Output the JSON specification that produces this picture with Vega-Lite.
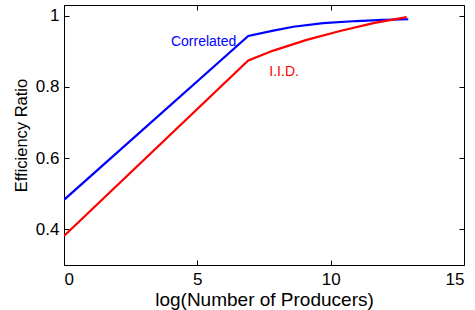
{
  "$schema": "https://vega.github.io/schema/vega-lite/v6.json",
  "width": 400,
  "height": 260,
  "autosize": {"type": "none"},
  "padding": {"left": 64, "top": 5, "right": 11, "bottom": 45},
  "background": "white",
  "config": {
    "view": {"stroke": "black", "strokeWidth": 1},
    "font": "Liberation Sans",
    "axis": {"grid": false, "domain": false, "tickColor": "black", "tickSize": -5, "labelColor": "black", "labelFont": "Liberation Sans", "titleFont": "Liberation Sans", "titleColor": "black", "titleFontWeight": "normal", "labelFontSize": 17, "titleFontSize": 18}
  },
  "datasets": {
    "lines": [
      {"x": 0, "y": 0.483, "series": "Correlated"},
      {"x": 6.91, "y": 0.943, "series": "Correlated"},
      {"x": 7.85, "y": 0.958, "series": "Correlated"},
      {"x": 8.6, "y": 0.969, "series": "Correlated"},
      {"x": 9.72, "y": 0.979, "series": "Correlated"},
      {"x": 10.97, "y": 0.985, "series": "Correlated"},
      {"x": 11.97, "y": 0.988, "series": "Correlated"},
      {"x": 12.91, "y": 0.99, "series": "Correlated"},
      {"x": 0, "y": 0.3815, "series": "I.I.D."},
      {"x": 6.91, "y": 0.874, "series": "I.I.D."},
      {"x": 7.85, "y": 0.902, "series": "I.I.D."},
      {"x": 9.1, "y": 0.932, "series": "I.I.D."},
      {"x": 10.35, "y": 0.957, "series": "I.I.D."},
      {"x": 11.6, "y": 0.979, "series": "I.I.D."},
      {"x": 12.85, "y": 0.996, "series": "I.I.D."}
    ],
    "labels": [
      {"x": 4.01, "y": 0.9135, "series": "Correlated"},
      {"x": 7.7, "y": 0.832, "series": "I.I.D."}
    ]
  },
  "layer": [
    {
      "data": {"name": "lines"},
      "mark": {"type": "line", "strokeWidth": 2.2, "clip": true},
      "encoding": {
        "x": {"field": "x", "type": "quantitative", "scale": {"domain": [0, 15], "nice": false, "zero": false}, "axis": {"orient": "bottom", "values": [0, 5, 10, 15], "title": "log(Number of Producers)", "titleFontSize": 19, "labelPadding": 11, "titlePadding": 3}},
        "y": {"field": "y", "type": "quantitative", "scale": {"domain": [0.3, 1.03], "nice": false, "zero": false}, "axis": {"orient": "left", "values": [0.4, 0.6, 0.8, 1], "format": "~g", "title": "Efficiency Ratio", "titleFontSize": 16.5, "labelPadding": 10, "titlePadding": 6}},
        "color": {"field": "series", "type": "nominal", "scale": {"domain": ["Correlated", "I.I.D."], "range": ["#0000ff", "#ff0000"]}, "legend": null}
      }
    },
    {
      "data": {"name": "labels"},
      "mark": {"type": "text", "align": "left", "baseline": "alphabetic", "fontSize": 14, "font": "Liberation Sans"},
      "encoding": {
        "x": {"field": "x", "type": "quantitative", "axis": {"orient": "top", "values": [0, 5, 10, 15], "labels": false, "title": null}},
        "y": {"field": "y", "type": "quantitative", "axis": {"orient": "right", "values": [0.4, 0.6, 0.8, 1], "labels": false, "title": null}},
        "text": {"field": "series"},
        "color": {"field": "series", "type": "nominal", "legend": null}
      }
    }
  ],
  "resolve": {"axis": {"x": "independent", "y": "independent"}}
}
